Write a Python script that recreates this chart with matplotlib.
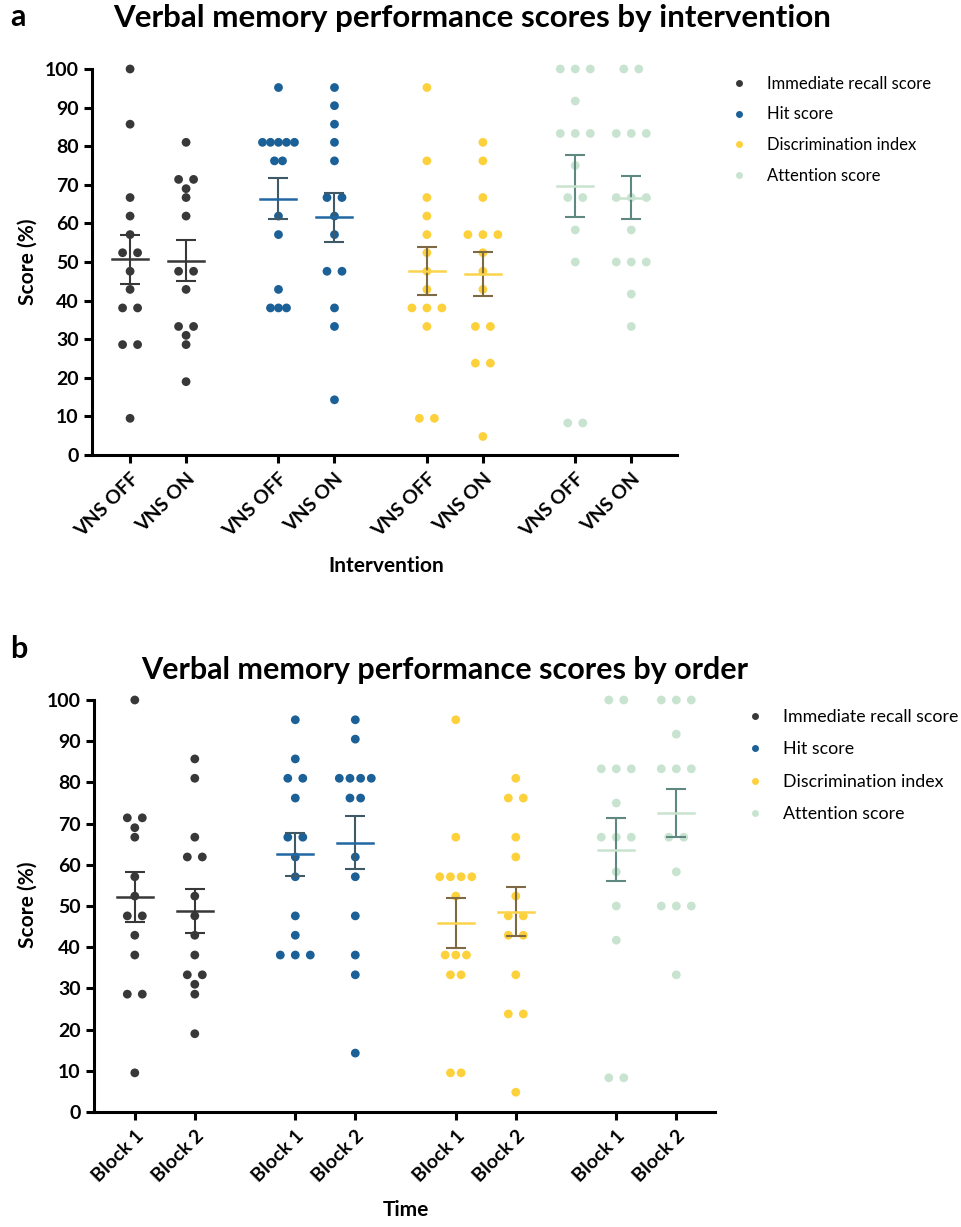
import matplotlib
matplotlib.use("Agg")
import matplotlib.pyplot as plt
from matplotlib.lines import Line2D
import numpy as np

plt.rcParams['font.family'] = ['Lato', 'DejaVu Sans']

# panel a: by intervention
recall_off = [100.0, 85.7, 66.7, 61.9, 57.1, 52.4, 52.4, 47.6, 42.9, 38.1, 38.1, 28.6, 28.6, 9.5]
recall_on = [81.0, 71.4, 71.4, 69.0, 66.7, 61.9, 47.6, 47.6, 42.9, 33.3, 33.3, 31.0, 28.6, 19.0]
hit_off = [95.2, 81.0, 81.0, 81.0, 81.0, 81.0, 76.2, 76.2, 61.9, 57.1, 42.9, 38.1, 38.1, 38.1]
hit_on = [95.2, 90.5, 85.7, 81.0, 76.2, 66.7, 66.7, 61.9, 57.1, 47.6, 47.6, 38.1, 33.3, 14.3]
disc_off = [95.2, 76.2, 66.7, 61.9, 57.1, 52.4, 47.6, 42.9, 38.1, 38.1, 38.1, 33.3, 9.5, 9.5]
disc_on = [81.0, 76.2, 66.7, 57.1, 57.1, 57.1, 52.4, 47.6, 42.9, 33.3, 33.3, 23.8, 23.8, 4.8]
att_off = [100.0, 100.0, 100.0, 91.7, 83.3, 83.3, 83.3, 75.0, 66.7, 66.7, 58.3, 50.0, 8.3, 8.3]
att_on = [100.0, 100.0, 83.3, 83.3, 83.3, 66.7, 66.7, 66.7, 58.3, 50.0, 50.0, 50.0, 41.7, 33.3]

# panel b: by order
recall_b1 = [100.0, 71.4, 71.4, 69.0, 66.7, 57.1, 52.4, 47.6, 47.6, 42.9, 38.1, 28.6, 28.6, 9.5]
recall_b2 = [85.7, 81.0, 66.7, 61.9, 61.9, 52.4, 47.6, 42.9, 38.1, 33.3, 33.3, 31.0, 28.6, 19.0]
hit_b1 = [95.2, 85.7, 81.0, 81.0, 76.2, 66.7, 66.7, 61.9, 57.1, 47.6, 42.9, 38.1, 38.1, 38.1]
hit_b2 = [95.2, 90.5, 81.0, 81.0, 81.0, 81.0, 76.2, 76.2, 61.9, 57.1, 47.6, 38.1, 33.3, 14.3]
disc_b1 = [95.2, 66.7, 57.1, 57.1, 57.1, 57.1, 52.4, 38.1, 38.1, 38.1, 33.3, 33.3, 9.5, 9.5]
disc_b2 = [81.0, 76.2, 76.2, 66.7, 61.9, 52.4, 47.6, 47.6, 42.9, 42.9, 33.3, 23.8, 23.8, 4.8]
att_b1 = [100.0, 100.0, 83.3, 83.3, 83.3, 75.0, 66.7, 66.7, 66.7, 58.3, 50.0, 41.7, 8.3, 8.3]
att_b2 = [100.0, 100.0, 100.0, 91.7, 83.3, 83.3, 83.3, 66.7, 66.7, 58.3, 50.0, 50.0, 50.0, 33.3]

measures = ['Immediate recall score', 'Hit score', 'Discrimination index', 'Attention score']
labels_a = ['VNS OFF', 'VNS ON']
labels_b = ['Block 1', 'Block 2']

dot_colors = ['#383838', '#1b6097', '#fdd13c', '#c8e4d0']
mean_colors = ['#383838', '#2168a3', '#fbd44c', '#c8e4d0']
err_colors = ['#383838', '#3f5966', '#7d6a45', '#5e8880']

W, H = 962, 1227
fig = plt.figure(figsize=(W / 100, H / 100), dpi=100)


def add_panel(left, right, top, bottom, step, unit_px, cols, ticklabels):
    ax = fig.add_axes([left / W, 1 - bottom / H, (right - left) / W, (bottom - top) / H])
    pos = []
    for g in range(4):
        pos += [g * step, g * step + 1]
    x0 = -0.68
    x1 = x0 + (right - left) / unit_px
    ax.set_xlim(x0, x1)
    ax.set_ylim(0, 100)
    unit = unit_px  # px per data unit

    for i, vals in enumerate(cols):
        g = i // 2
        vals = np.array(vals)
        uniq, counts = np.unique(vals, return_counts=True)
        maxc = counts.max()
        # dots with equal score get spread sideways, tighter when a cluster is large
        sp = 15.0 if maxc <= 3 else min(15.0, 32.0 / (maxc - 1))
        xs, ys = [], []
        for v, c in zip(uniq, counts):
            for k in range(c):
                xs.append(pos[i] + (k - (c - 1) / 2) * sp / unit)
                ys.append(v)
        ax.scatter(xs, ys, s=40, color=dot_colors[g], edgecolors='none', zorder=2, clip_on=False)
        m = vals.mean()
        sem = vals.std(ddof=1) / np.sqrt(len(vals))
        ax.errorbar(pos[i], m, yerr=sem, fmt='none', ecolor=err_colors[g], elinewidth=1.5,
                    capsize=7, capthick=1.5, zorder=3)
        ax.plot([pos[i] - 18 / unit, pos[i] + 18 / unit], [m, m], color=mean_colors[g], lw=1.8, zorder=4)

    for s in ['top', 'right']:
        ax.spines[s].set_visible(False)
    for s in ['left', 'bottom']:
        ax.spines[s].set_linewidth(2.2)
    ax.set_yticks(np.arange(0, 101, 10))
    ax.set_xticks(pos)
    ax.set_xticklabels(ticklabels * 4, rotation=45, ha='right', rotation_mode='anchor',
                       fontsize=12.5, fontweight='bold')
    ax.tick_params(axis='both', length=6, width=2.2, labelsize=14)
    for t in ax.get_yticklabels():
        t.set_fontweight('bold')
    ax.tick_params(axis='x', pad=5)
    return ax


cols_a = [recall_off, recall_on, hit_off, hit_on, disc_off, disc_on, att_off, att_on]
cols_b = [recall_b1, recall_b2, hit_b1, hit_b2, disc_b1, disc_b2, att_b1, att_b2]

ax_a = add_panel(92, 677, 69, 455, 2.65, 56.0, cols_a, labels_a)
ax_b = add_panel(94, 715, 700, 1112, 2.675, 60.0, cols_b, labels_b)

# titles and panel letters
fig.text(10 / W, 1 - 17 / H, 'a', fontsize=22, fontweight='bold', va='center')
fig.text(472 / W, 1 - 18 / H, 'Verbal memory performance scores by intervention',
         fontsize=22.5, fontweight='bold', ha='center', va='center')
fig.text(10 / W, 1 - 649 / H, 'b', fontsize=22, fontweight='bold', va='center')
fig.text(445 / W, 1 - 670 / H, 'Verbal memory performance scores by order',
         fontsize=22, fontweight='bold', ha='center', va='center')

# axis labels
fig.text(28 / W, 1 - 262 / H, 'Score (%)', fontsize=15, fontweight='bold', rotation=90,
         ha='center', va='center')
fig.text(28 / W, 1 - 905 / H, 'Score (%)', fontsize=15, fontweight='bold', rotation=90,
         ha='center', va='center')
fig.text(386 / W, 1 - 566 / H, 'Intervention', fontsize=15, fontweight='bold', ha='center', va='center')
fig.text(406 / W, 1 - 1210 / H, 'Time', fontsize=15, fontweight='bold', ha='center', va='center')

# legends
handles = [Line2D([], [], ls='none', marker='o', markersize=5, markerfacecolor=c, markeredgecolor='none')
           for c in dot_colors]
fig.legend(handles, measures, loc='upper left', bbox_to_anchor=(724 / W, 1 - 69 / H), frameon=False,
           fontsize=12, handletextpad=1.18, labelspacing=0.89, handlelength=1.0, borderaxespad=0)
fig.legend(handles, measures, loc='upper left', bbox_to_anchor=(739 / W, 1 - 702 / H), frameon=False,
           fontsize=12.8, handletextpad=1.07, labelspacing=0.92, handlelength=1.0, borderaxespad=0)

fig.savefig('out.png', dpi=100)
